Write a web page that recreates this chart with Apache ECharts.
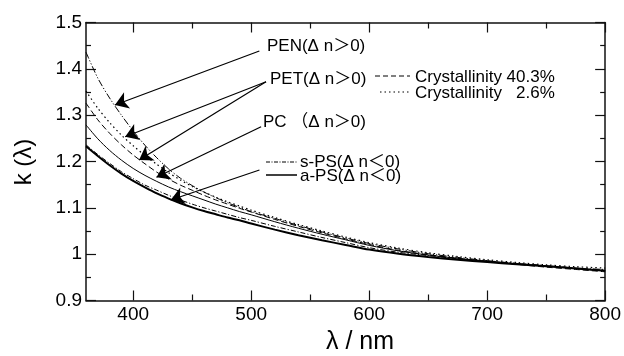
<!DOCTYPE html>
<html>
<head>
<meta charset="utf-8">
<script src="https://cdn.jsdelivr.net/npm/echarts@6/dist/echarts.min.js"></script>
<style>
  html, body { margin: 0; padding: 0; background: #fff; }
  #chart { width: 624px; height: 356px; }
</style>
</head>
<body>
<div id="chart"></div>
<script>
// wavelength grid (nm) and k(lambda)
var lambda = [360, 370, 380, 390, 400, 410, 420, 430, 440, 450, 460, 470, 480, 490, 500,
              520, 540, 560, 580, 600, 625, 650, 675, 700, 725, 750, 775, 800];

var k_pen   = [1.436, 1.380, 1.337, 1.300, 1.266, 1.235, 1.208, 1.184, 1.164, 1.148, 1.134, 1.122, 1.111, 1.101, 1.092,
               1.077, 1.062, 1.048, 1.035, 1.023, 1.011, 1.001, 0.993, 0.986, 0.980, 0.975, 0.970, 0.967];
var k_pet40 = [1.326, 1.290, 1.261, 1.236, 1.214, 1.195, 1.177, 1.162, 1.149, 1.138, 1.127, 1.117, 1.108, 1.099, 1.091,
               1.075, 1.060, 1.046, 1.033, 1.021, 1.008, 0.999, 0.991, 0.984, 0.978, 0.972, 0.967, 0.962];
var k_pet3  = [1.352, 1.315, 1.284, 1.257, 1.234, 1.213, 1.194, 1.176, 1.160, 1.146, 1.134, 1.123, 1.113, 1.104, 1.095,
               1.079, 1.064, 1.050, 1.037, 1.025, 1.013, 1.003, 0.995, 0.988, 0.982, 0.977, 0.973, 0.970];
var k_pc    = [1.279, 1.249, 1.224, 1.203, 1.185, 1.170, 1.157, 1.145, 1.135, 1.126, 1.117, 1.108, 1.100, 1.092, 1.085,
               1.070, 1.056, 1.043, 1.031, 1.019, 1.007, 0.998, 0.991, 0.985, 0.979, 0.974, 0.969, 0.964];
var k_sps   = [1.236, 1.215, 1.196, 1.178, 1.163, 1.149, 1.138, 1.127, 1.117, 1.108, 1.100, 1.093, 1.086, 1.079, 1.073,
               1.060, 1.048, 1.036, 1.025, 1.014, 1.004, 0.997, 0.990, 0.985, 0.980, 0.975, 0.970, 0.965];
var k_aps   = [1.233, 1.212, 1.192, 1.174, 1.158, 1.144, 1.131, 1.120, 1.110, 1.101, 1.093, 1.086, 1.079, 1.073, 1.066,
               1.053, 1.041, 1.030, 1.020, 1.010, 1.001, 0.994, 0.988, 0.983, 0.978, 0.974, 0.969, 0.964];

var x_labels = [400, 500, 600, 700, 800];
var x_minor  = [450, 550, 650, 750];

// annotation arrows, [lambda, k] from label to curve
var arrow_from = [[506.9, 1.4385], [512.6, 1.372], [512.6, 1.372], [508.4, 1.275], [507.0, 1.1816]];
var arrow_to   = [[384.5, 1.322],  [393.2, 1.2535], [405.0, 1.2032], [419.7, 1.166], [431.8, 1.117]];

var FONT = "'Liberation Sans', Arial, 'Noto Sans CJK JP', sans-serif";
var INK = '#111';

function pairs(ys) {
    return lambda.map(function (x, i) { return [x, ys[i]]; });
}

var plots = echarts.init(document.getElementById('chart'));

function xAxisDef(pos, ticks, len, showLine, showLabel) {
    return {
        type: 'value', position: pos, min: 360, max: 800,
        axisLine: { show: showLine, onZero: false, lineStyle: { color: INK, width: 1.5 } },
        axisTick: { show: true, inside: true, length: len, customValues: ticks,
                    lineStyle: { color: INK, width: 1.2 } },
        axisLabel: { show: showLabel, customValues: x_labels, margin: 5,
                     color: '#000', fontSize: 19, fontFamily: FONT },
        splitLine: { show: false }
    };
}

function yAxisDef(pos, showLabel) {
    return {
        type: 'value', position: pos, min: 0.9, max: 1.5, interval: 0.1,
        axisLine: { show: true, onZero: false, lineStyle: { color: INK, width: 1.5 } },
        axisTick: { show: true, inside: true, length: 10, lineStyle: { color: INK, width: 1.2 } },
        minorTick: { show: true, splitNumber: 2, length: 5, lineStyle: { color: INK, width: 1.2 } },
        axisLabel: { show: showLabel, margin: 4, color: '#000', fontSize: 19, fontFamily: FONT,
                     formatter: function (v) { return Math.abs(v - 1) < 1e-9 ? '1' : v.toFixed(1); } },
        splitLine: { show: false }
    };
}

function curve(name, ys, type, width) {
    return {
        name: name, type: 'line', data: pairs(ys), showSymbol: false, smooth: 0.3,
        silent: true,
        lineStyle: { color: '#000', width: width, type: type }
    };
}

var arrows = arrow_from.map(function (a, i) {
    return [{ coord: a }, { coord: arrow_to[i] }];
});

var series = [
    curve('PEN', k_pen, [7, 2, 1.2, 2, 1.2, 2], 1),
    curve('PET 40.3%', k_pet40, [6, 3], 1),
    curve('PET 2.6%', k_pet3, [1.5, 3], 1.2),
    curve('PC', k_pc, 'solid', 1),
    curve('s-PS', k_sps, [5, 2, 1.2, 2], 1),
    curve('a-PS', k_aps, 'solid', 2)
];
series[0].markLine = {
    silent: true, symbol: ['none', 'arrow'], symbolSize: 13, label: { show: false },
    lineStyle: { color: '#000', width: 1.2, type: 'solid' },
    data: arrows
};

var txt = function (x, y, s) {
    return { type: 'text', x: x, y: y,
             style: { text: s, fill: '#000', font: '17px ' + FONT,
                      textAlign: 'left', textVerticalAlign: 'middle' } };
};
var seg = function (x1, x2, y, dash, w) {
    return { type: 'line', shape: { x1: x1, y1: y, x2: x2, y2: y },
             style: { stroke: '#000', lineWidth: w || 1, lineDash: dash } };
};

var option = {
    animation: false,
    grid: { left: 86, right: 17, top: 22.5, bottom: 55.5 },
    xAxis: [
        xAxisDef('bottom', x_labels, 10, true, true),
        xAxisDef('bottom', x_minor, 6, false, false),
        xAxisDef('top', x_labels, 10, true, false),
        xAxisDef('top', x_minor, 6, false, false)
    ],
    yAxis: [ yAxisDef('left', true), yAxisDef('right', false) ],
    series: series,
    graphic: [
        txt(267, 46, 'PEN(Δ n＞0)'),
        txt(270, 79, 'PET(Δ n＞0)'),
        txt(263, 122, 'PC （Δ n＞0)'),
        txt(300, 162, 's-PS(Δ n＜0)'),
        txt(300, 176, 'a-PS(Δ n＜0)'),
        txt(415, 77, 'Crystallinity 40.3%'),
        txt(415, 93, 'Crystallinity   2.6%'),
        seg(375, 410, 76, [5, 3]),
        seg(380, 410, 92, [1.5, 3], 1.2),
        seg(266, 297, 162, [4, 1.5, 1, 1.5]),
        seg(266, 297, 175, null, 1.5),
        { type: 'text', x: 360, y: 342,
          style: { text: 'λ / nm', fill: '#000', font: '25px ' + FONT,
                   textAlign: 'center', textVerticalAlign: 'middle' } },
        { type: 'text', x: 24, y: 162, rotation: Math.PI / 2,
          style: { text: 'k (λ)', fill: '#000', font: '24px ' + FONT,
                   textAlign: 'center', textVerticalAlign: 'middle' } }
    ]
};

plots.setOption(option);
</script>
</body>
</html>
